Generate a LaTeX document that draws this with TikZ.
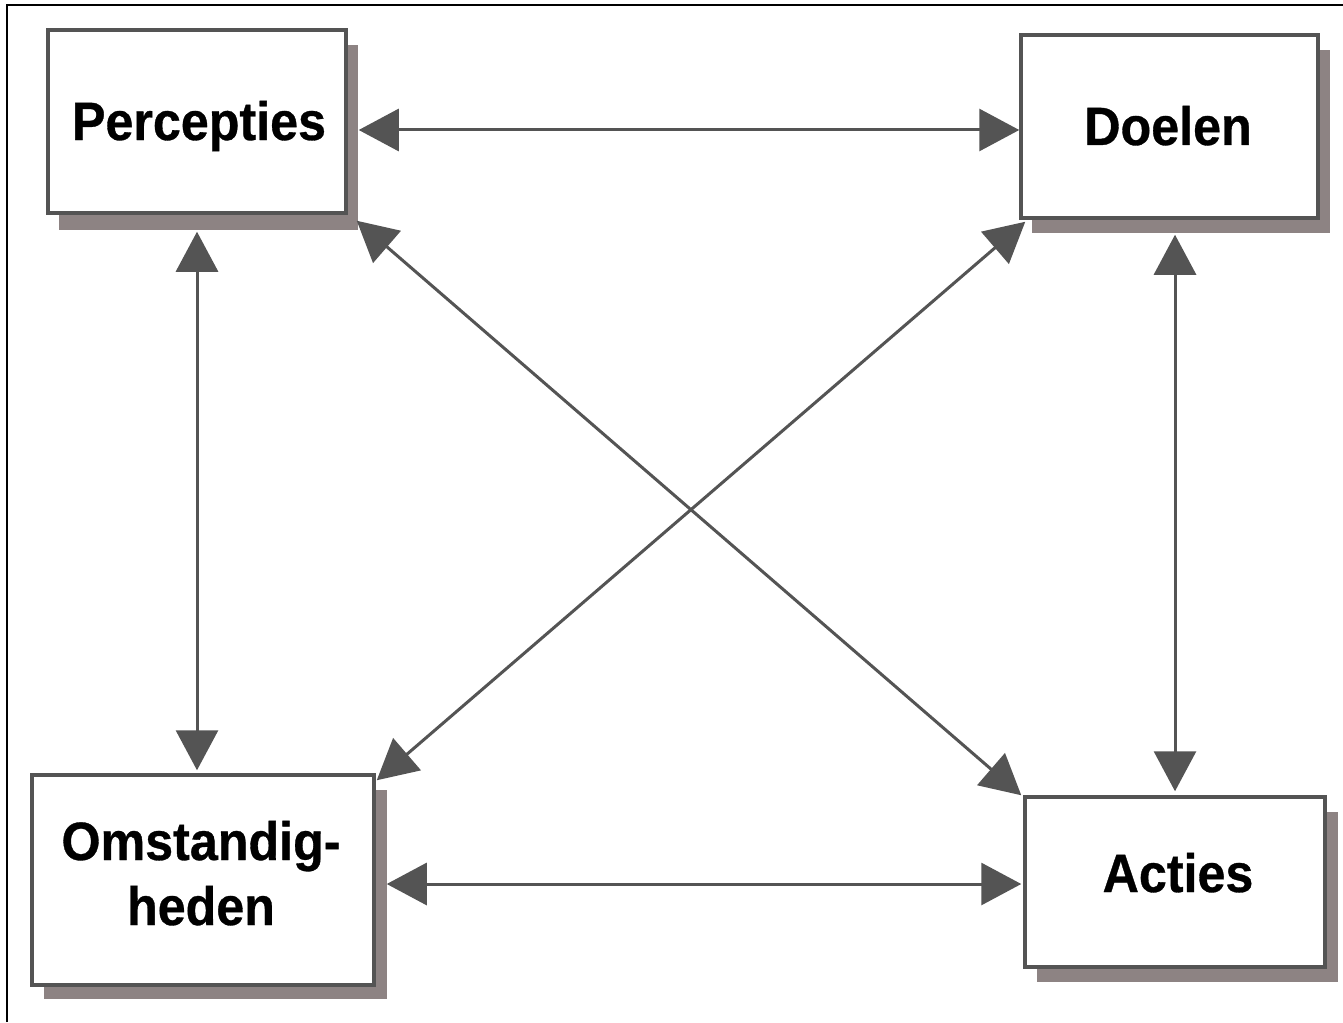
\documentclass[tikz,border=0pt]{standalone}
\usepackage{fontspec}
\setmainfont{Liberation Sans}
\newfontfamily\boxfont{Liberation Sans Bold}[FakeStretch=0.93, FakeBold=0.6]
\usetikzlibrary{arrows.meta}
\definecolor{edgegray}{HTML}{545454}
\definecolor{shadowgray}{HTML}{8D8383}
\tikzset{
  box/.style={draw=edgegray, line width=3.5pt, fill=white, rectangle, inner sep=0pt},
  boxshadow/.style={fill=shadowgray},
  lbl/.style={anchor=base, inner sep=0pt, align=center,
    font=\boxfont\fontsize{54}{65}\selectfont},
  arr/.style={draw=edgegray, line width=3pt,
    {Triangle[length=40pt,width=42pt]}-{Triangle[length=40pt,width=42pt]}},
}
\begin{document}
\begin{tikzpicture}[x=1pt, y=-1pt]
\useasboundingbox (0,0) rectangle (1343,1022);
\fill[white] (0,0) rectangle (1343,1022);
% frame lines (left and top)
\draw[black, line width=2pt] (7,1022) -- (7,5) -- (1343,5);

% drop shadows
\fill[boxshadow] (59,45) rectangle (358,230);
\fill[boxshadow] (1032,50) rectangle (1330,233);
\fill[boxshadow] (44,790) rectangle (387,999);
\fill[boxshadow] (1037,812) rectangle (1338,982);

% boxes
\node[box, minimum width=298pt, minimum height=183pt] (P) at (197,121.5) {};
\node[box, minimum width=297pt, minimum height=183pt] (D) at (1169.5,126.5) {};
\node[box, minimum width=342pt, minimum height=210pt] (O) at (203,880) {};
\node[box, minimum width=300pt, minimum height=170pt] (A) at (1175,882) {};

% labels (base anchor = baseline of the last line)
\node[lbl] (Plbl) at (199,140) {Percepties};
\node[lbl] (Dlbl) at (1168,145) {Doelen};
\node[lbl] (Olbl) at (201,925) {Omstandig-\\heden};
\node[lbl] (Albl) at (1178,892) {Acties};

% connectors
\draw[arr] ([xshift=11pt,yshift=-8.5pt]P.east) -- ([yshift=-3.5pt]D.west);
\draw[arr] ([xshift=11pt,yshift=-4pt]O.east) -- ([xshift=-2pt,yshift=-2pt]A.west);
\draw[arr] ([yshift=-17pt]P.south) -- ([xshift=-6pt,yshift=3pt]O.north);
\draw[arr] ([xshift=5.5pt,yshift=-15pt]D.south) -- ([yshift=4pt]A.north);
\draw[arr] ([xshift=9pt,yshift=-6pt]P.south east) -- ([xshift=-2pt]A.north west);
\draw[arr] ([xshift=6pt,yshift=-2pt]D.south west) -- ([xshift=1pt,yshift=-7pt]O.north east);
\end{tikzpicture}
\end{document}
